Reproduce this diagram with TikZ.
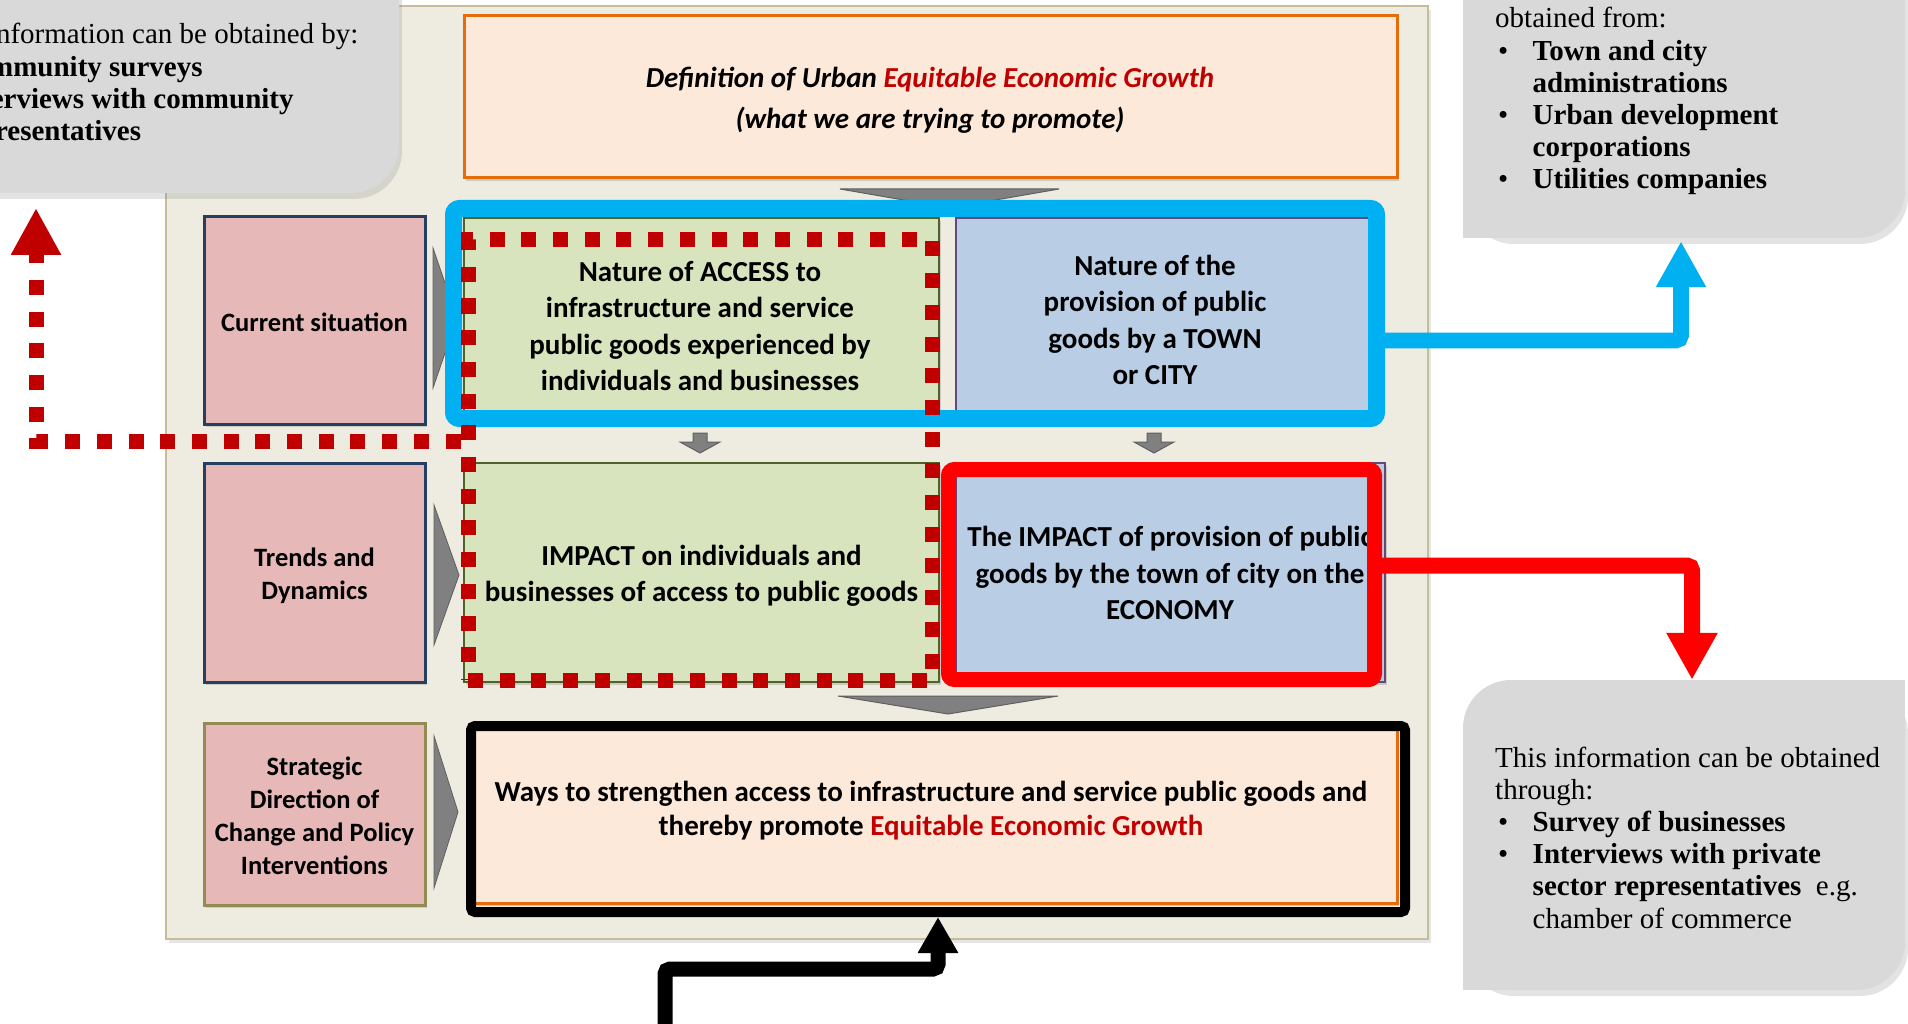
\documentclass[tikz,border=0pt]{standalone}
\usepackage{fontspec}
\setmainfont{Liberation Serif}
\newfontfamily\calfont{Carlito}
\usetikzlibrary{arrows.meta,shadows}
\definecolor{panelbg}{HTML}{EEECE1}
\definecolor{panelln}{HTML}{C4BD97}
\definecolor{peach}{HTML}{FDE9D9}
\definecolor{orangeln}{HTML}{E46C0A}
\definecolor{pinkfill}{HTML}{E6B9B8}
\definecolor{navyln}{HTML}{243F60}
\definecolor{oliveln}{HTML}{948A54}
\definecolor{greenfill}{HTML}{D7E4BD}
\definecolor{greenln}{HTML}{4F6228}
\definecolor{bluefill}{HTML}{B9CDE5}
\definecolor{purpleln}{HTML}{604A7B}
\definecolor{cyanfr}{HTML}{00B0F0}
\definecolor{redfr}{HTML}{FF0000}
\definecolor{darkred}{HTML}{C00000}
\definecolor{callgray}{HTML}{D9D9D9}
\definecolor{arrgray}{HTML}{808080}
\definecolor{arrgrayln}{HTML}{5F5F5F}
\begin{document}
\begin{tikzpicture}[x=1pt,y=-1pt,
  sh/.style={drop shadow={shadow xshift=2pt,shadow yshift=-3pt,opacity=0.3}},
  boxbase/.style={rectangle,inner sep=0pt},
  panelbox/.style={boxbase,fill=panelbg,draw=panelln,line width=2pt,
     drop shadow={shadow xshift=3pt,shadow yshift=-4pt,opacity=0.2}},
  callshape/.style={boxbase,fill=callgray,rounded corners=48pt,
     drop shadow={shadow xshift=3pt,shadow yshift=-6pt,opacity=0.22}},
  pinkbox/.style={boxbase,fill=pinkfill,draw=navyln,line width=3pt,sh},
  peachbox/.style={boxbase,fill=peach,draw=orangeln,line width=3pt,sh},
  greenbox/.style={boxbase,fill=greenfill,draw=greenln,line width=2pt,sh},
  bluebox/.style={boxbase,fill=bluefill,draw=purpleln,line width=2pt,sh},
  boxtext/.style={font=\calfont\bfseries\fontsize{29}{36.5}\selectfont,align=center,inner sep=0pt},
  pinktext/.style={font=\calfont\bfseries\fontsize{26.5}{33}\selectfont,align=center,inner sep=0pt},
  calltext/.style={font=\fontsize{29}{32.2}\selectfont,anchor=base west,inner sep=0pt},
  chev/.style={fill=arrgray,draw=arrgrayln,line width=1pt},
  tri/.style={fill=arrgray,draw=arrgrayln,line width=0.8pt},
  frameblue/.style={boxbase,draw=cyanfr,line width=17pt,rounded corners=6pt},
  framered/.style={boxbase,draw=redfr,line width=15pt,rounded corners=6pt},
  frameblack/.style={boxbase,draw=black,line width=10pt,rounded corners=4pt},
  reddot/.style={boxbase,draw=darkred,line width=15pt,dash pattern=on 15pt off 16.7pt},
  reddotline/.style={draw=darkred,line width=15pt,dash pattern=on 15pt off 16.7pt},
]
\useasboundingbox (0,0) rectangle (1908,1024);
\clip (0,0) rectangle (1908,1024);

% background panel
\node[panelbox,minimum width=1262pt,minimum height=933pt] (panel) at (797,472.5) {};

% callouts
\node[callshape,minimum width=499pt,minimum height=293pt] (callTL) at (149.5,46.5) {};
\node[calltext] (callTLt) at (-71,44) {\parbox[t]{480pt}{This information can be obtained by:\\
\makebox[24.5pt][l]{\hspace{3pt}\textbullet}\textbf{Community surveys}\\
\makebox[24.5pt][l]{\hspace{3pt}\textbullet}\textbf{Interviews with community}\\
\hspace*{24.5pt}\textbf{representatives}}};

\node[callshape,minimum width=442pt,minimum height=338pt] (callTR) at (1684,69) {};
\fill[callgray] (callTR.south west) rectangle ++(60,-60);
\node[calltext] (callTRt) at (1495,28) {\parbox[t]{410pt}{obtained from:\\
\makebox[37.5pt][l]{\hspace{3pt}\textbullet}\textbf{Town and city}\\
\hspace*{37.5pt}\textbf{administrations}\\
\makebox[37.5pt][l]{\hspace{3pt}\textbullet}\textbf{Urban development}\\
\hspace*{37.5pt}\textbf{corporations}\\
\makebox[37.5pt][l]{\hspace{3pt}\textbullet}\textbf{Utilities companies}}};

\node[callshape,minimum width=442pt,minimum height=310pt] (callBR) at (1684,835) {};
\fill[callgray] (callBR.south west) rectangle ++(60,-60);
\fill[callgray] (callBR.north east) rectangle ++(-60,60);
\node[calltext] (callBRt) at (1495,767) {\parbox[t]{410pt}{This information can be obtained\\
through:\\
\makebox[37.5pt][l]{\hspace{3pt}\textbullet}\textbf{Survey of businesses}\\
\makebox[37.5pt][l]{\hspace{3pt}\textbullet}\textbf{Interviews with private}\\
\hspace*{37.5pt}\textbf{sector representatives}~ e.g.\\
\hspace*{37.5pt}chamber of commerce}};

% top box
\node[peachbox,minimum width=933pt,minimum height=162pt] (defbox) at (930.5,97) {};
\node[boxtext,font=\calfont\bfseries\itshape\fontsize{29}{41}\selectfont] (defT) at (930,100)
  {Definition of Urban \textcolor{darkred}{Equitable Economic Growth}\\(what we are trying to promote)};
\filldraw[chev] (840,189) -- (1059,189) -- (949.5,208) -- cycle;

% row 1
\node[pinkbox,minimum width=221pt,minimum height=207pt] (cur) at (314.5,320.5) {};
\node[pinktext] (curT) at (314.5,322) {Current situation};
\filldraw[tri] (433,248) -- (457,318) -- (433,388) -- cycle;
\node[greenbox,minimum width=475pt,minimum height=198pt] (acc) at (701.5,317) {};
\node[boxtext] (accT) at (700,326) {Nature of ACCESS to\\infrastructure and service\\public goods experienced by\\individuals and businesses};
\node[bluebox,minimum width=424pt,minimum height=198pt] (prov) at (1168,317) {};
\node[boxtext] (provT) at (1155,320) {Nature of the\\provision of public\\goods by a TOWN\\or CITY};

% small down arrows
\filldraw[chev] (693,433) -- (707,433) -- (707,442) -- (720,442) -- (700,453) -- (680,442) -- (693,442) -- cycle;
\filldraw[chev] (1147,433) -- (1161,433) -- (1161,442) -- (1174,442) -- (1154,453) -- (1134,442) -- (1147,442) -- cycle;

% row 2
\node[pinkbox,minimum width=221pt,minimum height=219pt] (trend) at (314.5,572.5) {};
\node[pinktext] (trendT) at (314.5,576) {Trends and\\Dynamics};
\filldraw[tri] (434,505) -- (459,575) -- (434,645) -- cycle;
\node[greenbox,minimum width=475pt,minimum height=219pt] (impind) at (701.5,572.5) {};
\node[boxtext,font=\calfont\bfseries\fontsize{29}{36}\selectfont] (impindT) at (701.5,575.5) {IMPACT on individuals and\\businesses of access to public goods};
\node[bluebox,minimum width=429pt,minimum height=219pt] (impeco) at (1170.5,572.5) {};
\node[boxtext] (impecoT) at (1170,573) {The IMPACT of provision of public\\goods by the town of city on the\\ECONOMY};

\filldraw[chev] (838,696) -- (1058,696) -- (948,714) -- cycle;

% row 3
\node[pinkbox,draw=oliveln,minimum width=221pt,minimum height=182pt] (strat) at (314.5,814) {};
\node[pinktext] (stratT) at (314.5,816) {Strategic\\Direction of\\Change and Policy\\Interventions};
\filldraw[tri] (434,736) -- (458,812) -- (434,888) -- cycle;
\node[peachbox,minimum width=923pt,minimum height=175pt] (ways) at (935.5,815.5) {};
\node[boxtext,font=\calfont\bfseries\fontsize{29}{34.5}\selectfont] (waysT) at (931,810.5)
  {Ways to strengthen access to infrastructure and service public goods and\\thereby promote \textcolor{darkred}{Equitable Economic Growth}};

% highlight frames
\node[frameblue,minimum width=923pt,minimum height=210pt] (blueframe) at (915,313.5) {};
\node[framered,minimum width=426pt,minimum height=210pt] (redframe) at (1161.5,574.5) {};
\node[frameblack,minimum width=934pt,minimum height=186pt] (waysframe) at (938,819) {};
\node[reddot,minimum width=464pt,minimum height=440pt] (accgrp) at (700,460) {};

% connectors
\coordinate (by) at (0,340.5);
\coordinate (bx) at (1681,0);
\draw[cyanfr,line width=15.6pt,rounded corners=5pt,shorten >=3pt,-{Triangle[width=47pt,length=46pt]}]
  (blueframe.east |- by) -| (callTR.south -| bx);
\coordinate (ry) at (0,565.5);
\coordinate (rx) at (1692,0);
\draw[redfr,line width=16pt,rounded corners=5pt,-{Triangle[width=48pt,length=47pt]}]
  (redframe.east |- ry) -| (callBR.north -| rx);
\coordinate (bsrc) at (665,1035);
\coordinate (bbend) at (938,969);
\draw[black,line width=15pt,rounded corners=5pt,-{Triangle[width=38pt,length=36pt]}]
  (bsrc) |- (bbend) -- (waysframe.south -| bbend);
\coordinate (dy) at (0,441);
\coordinate (tlend) at (36,208);
\draw[reddotline,-{Triangle[width=47pt,length=47pt]}] (accgrp.west |- dy) -| (tlend);
\end{tikzpicture}
\end{document}
